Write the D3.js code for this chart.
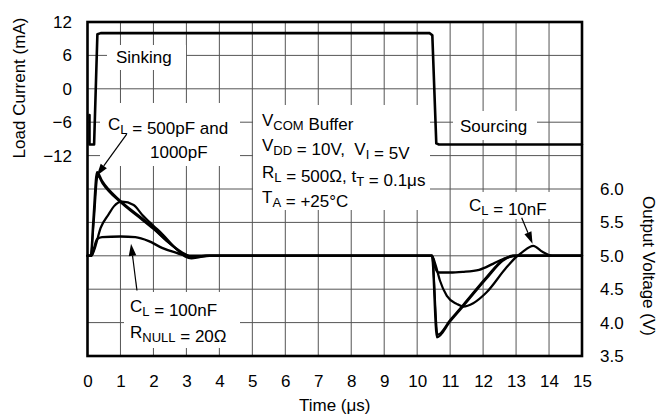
<!DOCTYPE html>
<html><head><meta charset="utf-8">
<script src="https://cdn.jsdelivr.net/npm/d3@7/dist/d3.min.js"></script>
<style>
html,body{margin:0;padding:0;background:#fff;}
svg text{font-family:"Liberation Sans",Arial,Helvetica,sans-serif;fill:#000;white-space:pre;}
</style></head>
<body><svg id="c" width="660" height="420"></svg>
<script>
// ---- data ----
const xTicks = [0,1,2,3,4,5,6,7,8,9,10,11,12,13,14,15];
const currentTicks = [12,6,0,-6,-12];
const currentTickLabels = ["12","6","0","\u22126","\u221212"];
const voltTicks = [3.5,4.0,4.5,5.0,5.5,6.0];

// load current (mA)
const tCurrent = [0.06,0.06,0.2,0.3,0.4,10.38,10.46,10.58,10.66,15];
const iCurrent = [-4.7,-10,-10,9.8,10,10,9.6,-9.8,-10,-10];

// output voltage (V)
const t500 = [0,0.1,0.18,0.29,0.44,1.0,1.5,2.0,2.46,2.87,3.2,3.6,10.45,10.6,11.0,11.4,12.1,12.6,12.9,15];
const v500 = [5.0,5.0,5.55,6.25,6.12,5.82,5.62,5.42,5.2,5.05,4.98,5.0,5.0,3.78,4.02,4.25,4.66,4.93,5.0,5.0];
const t1000 = [0,0.1,0.19,0.31,0.46,1.0,1.5,2.0,2.5,2.9,3.2,3.6,10.45,10.62,11.0,11.4,12.1,12.6,12.95,15];
const v1000 = [5.0,5.0,5.5,6.2,6.08,5.8,5.6,5.4,5.18,5.03,4.98,5.0,5.0,3.82,4.04,4.27,4.68,4.94,5.0,5.0];
const t10n = [0,0.12,0.2,0.4,0.64,0.8,1.05,1.4,1.65,2.0,2.26,2.66,2.96,3.15,3.4,3.7,10.45,10.56,10.69,10.9,11.2,11.4,11.7,12.1,12.7,13.0,13.2,13.52,13.8,14.1,15];
const v10n = [5.0,5.0,5.08,5.42,5.62,5.74,5.81,5.76,5.62,5.45,5.33,5.12,4.99,4.96,4.98,5.0,5.0,4.86,4.63,4.4,4.28,4.24,4.29,4.45,4.82,4.98,5.06,5.15,5.06,5.0,5.0];
const t100n = [0,0.12,0.2,0.29,0.44,1.0,1.45,1.86,2.26,2.66,3.07,3.5,10.45,10.55,10.64,11.0,11.38,11.88,12.3,12.7,13.0,15];
const v100n = [5.0,5.0,5.12,5.25,5.28,5.29,5.28,5.22,5.12,5.05,5.0,5.0,5.0,4.82,4.75,4.75,4.76,4.79,4.88,4.97,5.0,5.0];

// ---- layout ----
const svg = d3.select("#c");
const L=87.5, R=582, T=22, B=356;
const x = d3.scaleLinear().domain([0,15]).range([L,R]);
const yI = d3.scaleLinear().domain([-48,12]).range([B,T]);
const yV = d3.scaleLinear().domain([3.5,8.5]).range([B,T]);
const font = '"Liberation Sans",Arial,Helvetica,sans-serif';

// grid
const g = svg.append("g");
g.selectAll("line.v").data(d3.range(1,15)).join("line")
 .attr("x1",d=>x(d)).attr("x2",d=>x(d)).attr("y1",T).attr("y2",B)
 .attr("stroke","#555").attr("stroke-width",1);
g.selectAll("line.h").data(d3.range(-42,12,6)).join("line")
 .attr("x1",L).attr("x2",R).attr("y1",d=>yI(d)).attr("y2",d=>yI(d))
 .attr("stroke","#555").attr("stroke-width",1);

// white label boxes
const boxes = [[107,45,186,70],[100,103,240,166],[253,105,430,210],[453,111,537,140],[124,292,240,348],[462,192,558,219]];
svg.append("g").selectAll("rect").data(boxes).join("rect")
 .attr("x",d=>d[0]).attr("y",d=>d[1]).attr("width",d=>d[2]-d[0]).attr("height",d=>d[3]-d[1])
 .attr("fill","#fff");

// curves
const lineI = d3.line().x(d=>x(d[0])).y(d=>yI(d[1]));
const lineV = d3.line().x(d=>x(d[0])).y(d=>yV(d[1])).curve(d3.curveMonotoneX);
const curves = svg.append("g").attr("fill","none").attr("stroke","#000").attr("stroke-linejoin","round").attr("stroke-linecap","round");
curves.append("path").attr("d",lineI(d3.zip(tCurrent,iCurrent))).attr("stroke-width",2.6);
[[t500,v500,2.4],[t1000,v1000,2.0],[t10n,v10n,2.2],[t100n,v100n,2.4]].forEach(([t,v,w])=>{
  curves.append("path").attr("d",lineV(d3.zip(t,v))).attr("stroke-width",w);
});

// border
svg.append("rect").attr("x",L).attr("y",T).attr("width",R-L).attr("height",B-T)
 .attr("fill","none").attr("stroke","#000").attr("stroke-width",2.6);

// axes
const axL = svg.append("g").attr("transform",`translate(${L},0)`)
 .call(d3.axisLeft(yI).tickValues(currentTicks).tickSize(0).tickPadding(15.5).tickFormat((d,i)=>currentTickLabels[i]));
const axR = svg.append("g").attr("transform",`translate(${R},0)`)
 .call(d3.axisRight(yV).tickValues(voltTicks).tickSize(0).tickPadding(18).tickFormat(d3.format(".1f")));
const axB = svg.append("g").attr("transform",`translate(0,${B})`)
 .call(d3.axisBottom(x).tickValues(xTicks).tickSize(0).tickPadding(19).tickFormat(d3.format("d")));
[axL,axR,axB].forEach(a=>{a.select(".domain").remove(); a.selectAll("text").attr("font-size",17).attr("font-family",font).attr("fill","#000");});

// axis titles
svg.append("text").attr("transform","translate(25,88) rotate(-90)").attr("text-anchor","middle")
 .attr("font-size",17).text("Load Current (mA)");
svg.append("text").attr("transform","translate(643,266) rotate(90)").attr("text-anchor","middle")
 .attr("font-size",17).text("Output Voltage (V)");
svg.append("text").attr("x",(L+R)/2).attr("y",411).attr("text-anchor","middle")
 .attr("font-size",17).text("Time (\u03BCs)");

// annotations with subscripts
function rich(xp,yp,segs){
  const t = svg.append("text").attr("x",xp).attr("y",yp).attr("font-size",17);
  segs.forEach(s=>{
    if(typeof s==="string"){ t.append("tspan").text(s); }
    else { t.append("tspan").attr("font-size",13).attr("dy",4).text(s.sub);
           t.append("tspan").attr("dy",-4).text(""); }
  });
  return t;
}
rich(116,63,["Sinking"]);
rich(460,132,["Sourcing"]);
rich(108,130,["C",{sub:"L"}," = 500pF and"]);
rich(150,158,["1000pF"]);
rich(262,126,["V",{sub:"COM"}," Buffer"]);
rich(262,151,["V",{sub:"DD"}," = 10V,  V",{sub:"I"}," = 5V"]);
rich(262,178,["R",{sub:"L"}," = 500\u03A9, t",{sub:"T"}," = 0.1\u03BCs"]);
rich(262,203,["T",{sub:"A"}," = +25\u00B0C"]);
rich(130,312,["C",{sub:"L"}," = 100nF"]);
rich(130,338,["R",{sub:"NULL"}," = 20\u03A9"]);
rich(469,211,["C",{sub:"L"}," = 10nF"]);

// arrows (data coordinates on voltage scale)
const arrows = [[1.19,6.82,0.28,6.2],[1.5,4.48,1.32,5.18],[13.17,5.57,13.5,5.18]];
const ag = svg.append("g");
arrows.forEach(([t0,v0,t1,v1])=>{
  const x0=x(t0),y0=yV(v0),x1=x(t1),y1=yV(v1);
  const ang=Math.atan2(y1-y0,x1-x0), len=12, hw=3.8;
  const bx=x1-len*Math.cos(ang), by=y1-len*Math.sin(ang);
  ag.append("line").attr("x1",x0).attr("y1",y0).attr("x2",bx).attr("y2",by).attr("stroke","#000").attr("stroke-width",1.2);
  const p1=[bx+hw*Math.sin(ang),by-hw*Math.cos(ang)], p2=[bx-hw*Math.sin(ang),by+hw*Math.cos(ang)];
  ag.append("path").attr("d",`M${x1},${y1}L${p1[0]},${p1[1]}L${p2[0]},${p2[1]}Z`).attr("fill","#000");
});
</script></body></html>
